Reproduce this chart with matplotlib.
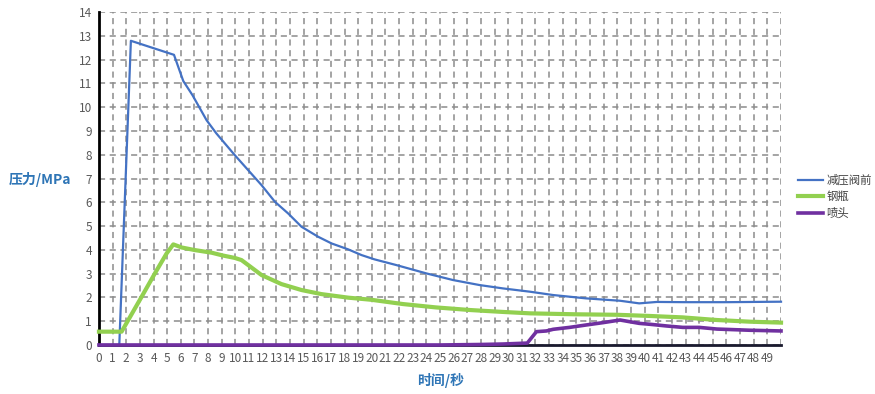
import matplotlib
matplotlib.use("Agg")
import matplotlib.pyplot as plt

plt.rcParams['font.family'] = ['Noto Sans CJK SC', 'DejaVu Sans']

# 减压阀前
t_valve = [0, 1.49, 2.34, 5.5, 6.18, 6.86, 7.89, 8.6, 9.96, 10.94, 11.92, 12.9,
           13.87, 14.85, 16.07, 17.05, 18.27, 19.25, 20.2, 21.8, 24.0, 25.96,
           27.9, 29.6, 31.6, 33.3, 35.7, 38.2, 39.6, 40.9, 43, 46, 50]
p_valve = [0, 0, 12.79, 12.2, 11.1, 10.5, 9.45, 8.9, 7.98, 7.35, 6.72, 6.02,
           5.53, 4.97, 4.55, 4.27, 4.02, 3.78, 3.6, 3.36, 3.01, 2.73,
           2.52, 2.38, 2.24, 2.1, 1.96, 1.86, 1.75, 1.81, 1.8, 1.8, 1.82]

# 钢瓶
t_bottle = [0, 1.66, 2.15, 3.13, 4.1, 4.96, 5.45, 6.06, 7.03, 8.26, 9.1, 9.96,
            10.45, 10.94, 11.92, 13.38, 14.85, 16.3, 18.27, 19.98, 22.3, 24.7,
            27.2, 29.6, 31.6, 35, 38, 40.4, 42.8, 45.3, 47.7, 50]
p_bottle = [0.56, 0.56, 1.05, 2.03, 3.01, 3.85, 4.23, 4.1, 3.99, 3.88, 3.76, 3.66,
            3.57, 3.36, 2.94, 2.56, 2.31, 2.14, 1.99, 1.9, 1.72, 1.58,
            1.47, 1.39, 1.33, 1.29, 1.27, 1.22, 1.16, 1.05, 0.98, 0.94]

# 喷头
t_nozzle = [0, 25, 27.9, 29.6, 31.4, 32.07, 32.8, 33.3, 34.5, 35.7, 36.95, 38.2,
            38.9, 39.6, 40.4, 41.6, 42.8, 44, 45.3, 47.7, 50]
p_nozzle = [0, 0, 0.02, 0.04, 0.08, 0.56, 0.59, 0.66, 0.74, 0.84, 0.94, 1.05,
            0.98, 0.91, 0.87, 0.8, 0.74, 0.74, 0.67, 0.62, 0.59]

x_ticks = list(range(0, 51))
x_labels = [str(i) for i in range(0, 50)] + ['']
y_ticks = list(range(0, 15))

fig = plt.figure(figsize=(8.75, 3.94), dpi=100)
ax = fig.add_axes([0.1131, 0.1244, 0.7795, 0.8451])

ax.plot(t_valve, p_valve, color='#4472C4', lw=1.6, label='减压阀前', clip_on=False, zorder=3)
ax.plot(t_bottle, p_bottle, color='#92D050', lw=3.0, label='钢瓶', clip_on=False, zorder=4)
ax.plot(t_nozzle, p_nozzle, color='#7030A0', lw=2.6, label='喷头', clip_on=False, zorder=5)

ax.set_xlim(0, 50)
ax.set_ylim(0, 14)
ax.set_xticks(x_ticks)
ax.set_xticklabels(x_labels)
ax.set_yticks(y_ticks)
ax.tick_params(length=0, labelsize=8.5, colors='#595959', pad=5)

ax.grid(True, color='#8C8C8C', linestyle=(0, (4, 3)), lw=1.1)
ax.set_axisbelow(True)
for side in ('top', 'right'):
    ax.spines[side].set_visible(False)
ax.spines['left'].set_linewidth(2)
ax.spines['bottom'].set_linewidth(2)
ax.spines['left'].set_color('black')
ax.spines['bottom'].set_color('#1a1a2e')

label_color = '#2E75B6'
fig.text(0.046, 0.545, '压力/MPa', color=label_color, fontsize=10,
         fontweight='bold', ha='center', va='center')
fig.text(0.503, 0.035, '时间/秒', color=label_color, fontsize=10,
         fontweight='bold', ha='center', va='center')

fig.legend(loc='upper left', bbox_to_anchor=(0.904, 0.575), frameon=False,
           fontsize=8.2, handlelength=2.2, handletextpad=0.3, labelspacing=0.5,
           borderaxespad=0.2, labelcolor='#404040')

fig.savefig('out.png', dpi=100)
